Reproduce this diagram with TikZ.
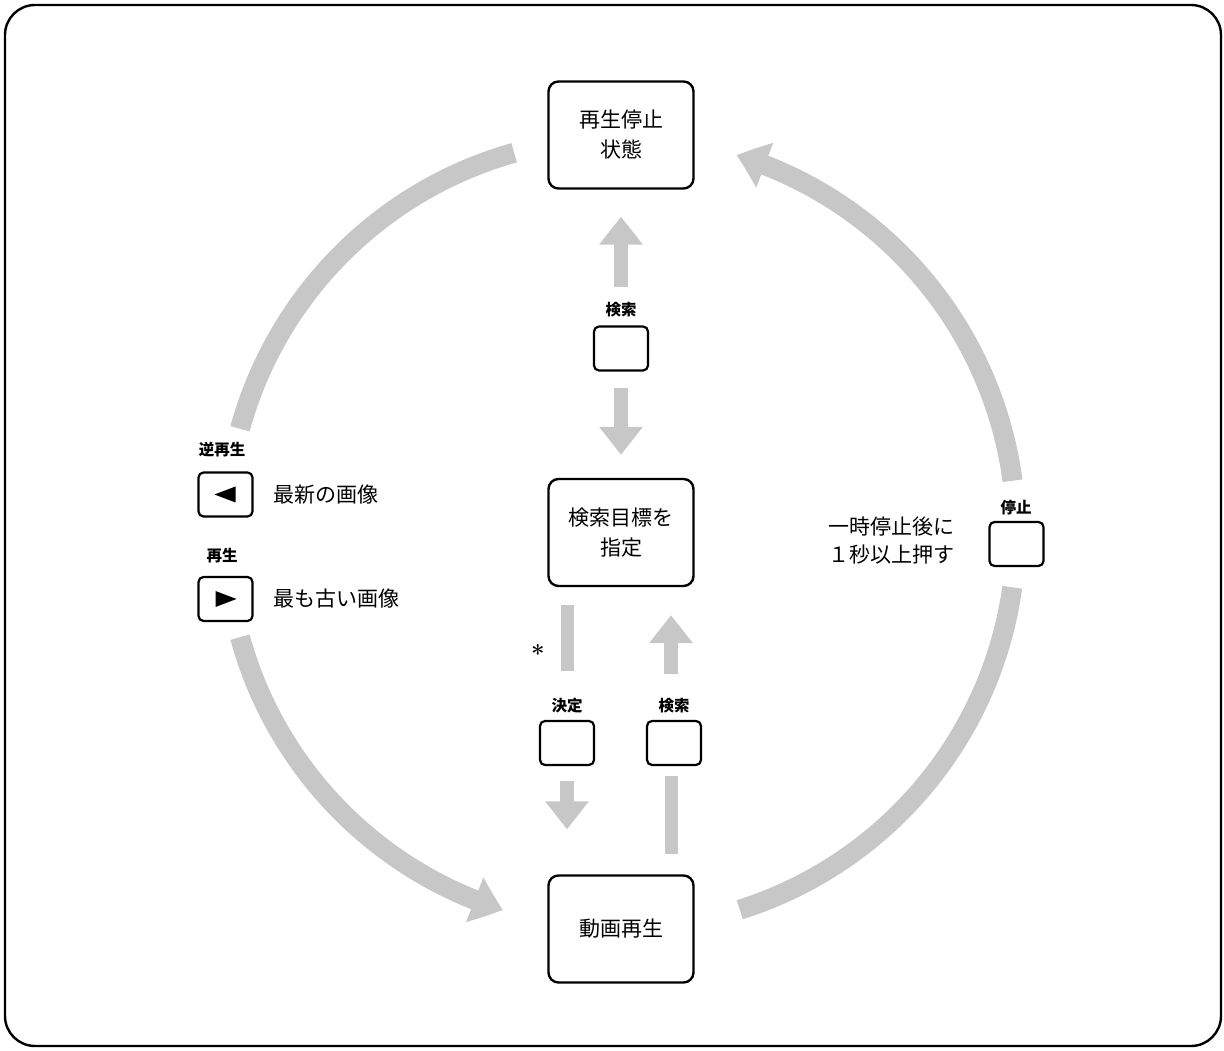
\documentclass[tikz,border=0pt]{standalone}
\usepackage{fontspec}
\newfontfamily\cjk{Noto Sans CJK JP}
\usetikzlibrary{arrows.meta,bending}
\begin{document}
\begin{tikzpicture}[x=1pt,y=1pt,
  box/.style={draw, line width=2.4pt, rounded corners=10pt, minimum width=145pt, minimum height=107pt, align=center, font=\cjk\fontsize{21}{30}\selectfont},
  btn/.style={draw, line width=2.2pt, rounded corners=5pt, minimum width=54pt, minimum height=44pt, inner sep=0pt},
  lbl/.style={font=\cjk\bfseries\fontsize{15.5}{17}\selectfont},
  txt/.style={font=\cjk\fontsize{21}{28}\selectfont},
  arcarrow/.style={draw=black!22, line width=20pt, -{Triangle[width=46pt,length=30pt,bend]}},
  arcline/.style={draw=black!22, line width=20pt},
  vline/.style={draw=black!22, line width=13pt},
  varrow/.style={draw=black!22, line width=14pt, -{Triangle[width=42pt,length=28pt]}},
]
\useasboundingbox (0,0) rectangle (1224,1050);
\draw[line width=2.4pt, rounded corners=30pt] (5,4) rectangle (1221,1045);

% main states
\node[box] (stop) at (621,915) {再生停止\\状態};
\node[box] (target) at (621,517.5) {検索目標を\\指定};
\node[box] (movie) at (621,121) {動画再生};

% buttons
\node[btn] (btnS) at (621,701.5) {};
\node[lbl] (lS) at (621,740) {検索};
\node[btn] (btnD) at (567,307) {};
\node[lbl] (lD) at (567,344) {決定};
\node[btn] (btnK) at (674,307) {};
\node[lbl] (lK) at (674,344) {検索};
\node[btn] (btnRev) at (225.5,555.5) {};
\node[lbl] (lRev) at (222,600) {逆再生};
\node[btn] (btnPlay) at (225.5,451) {};
\node[lbl] (lPlay) at (222,494) {再生};
\node[btn] (btnStop) at (1016.5,506) {};
\node[lbl] (lStop) at (1016,542) {停止};

\fill ([xshift=-11]btnRev.center) -- ++(21,8) -- ++(0,-16) -- cycle;
\fill ([xshift=11]btnPlay.center) -- ++(-21,8) -- ++(0,-16) -- cycle;

% texts
\node[txt, anchor=west] (tRev) at (270,555) {最新の画像};
\node[txt, anchor=west] (tPlay) at (270,451) {最も古い画像};
\node[txt, anchor=east, align=right] (tStop) at (958,509) {一時停止後に\\１秒以上押す};
\node[font=\bfseries\fontsize{24}{26}\selectfont, inner sep=0pt] (ast) at (538,396) {*};

% vertical arrows
\draw[varrow] ([yshift=38]btnS.north) -- ([yshift=-27]stop.south);
\draw[varrow] ([yshift=-16]btnS.south) -- ([yshift=23]target.north);
\draw[vline] ([xshift=-54,yshift=-18]target.south) -- ([yshift=49]btnD.north);
\draw[varrow] ([yshift=-15]btnD.south) -- ([xshift=-54,yshift=45]movie.north);
\draw[vline] ([xshift=-3,yshift=-10]btnK.south) -- ([xshift=50,yshift=20]movie.north);
\draw[varrow] ([xshift=-3,yshift=46]btnK.north) -- ([xshift=50,yshift=-28]target.south);

% circular arrows
\coordinate (c) at (621,517);
\draw[arcline] ([shift={(105.7:395)}]c) arc[start angle=105.7, end angle=164.7, radius=395];
\draw[arcarrow] ([shift={(195.3:395)}]c) arc[start angle=195.3, end angle=252.6, radius=395];
\draw[arcline] ([shift={(287.5:395)}]c) arc[start angle=287.5, end angle=352.1, radius=395];
\draw[arcarrow] ([shift={(7.6:395)}]c) arc[start angle=7.6, end angle=73, radius=395];
\end{tikzpicture}
\end{document}
